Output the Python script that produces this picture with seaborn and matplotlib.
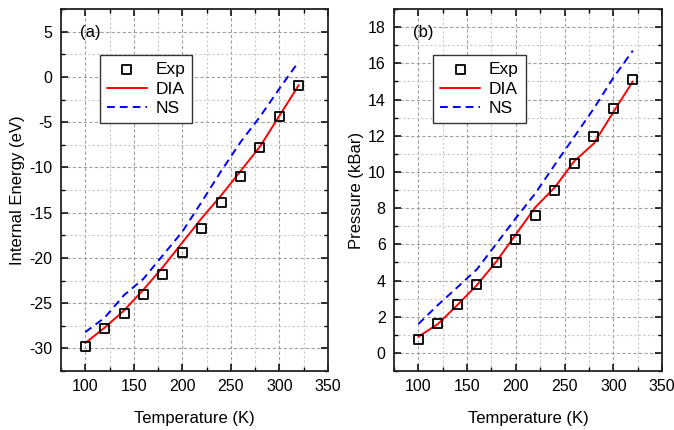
import numpy as np
import pandas as pd
import matplotlib
matplotlib.use("Agg")
import matplotlib.pyplot as plt
from matplotlib.ticker import MultipleLocator
import seaborn as sns

# data
temp = [100, 120, 140, 160, 180, 200, 220, 240, 260, 280, 300, 320]

energy_exp = [-29.8, -27.8, -26.1, -24.0, -21.8, -19.4, -16.8, -13.9, -10.95, -7.75, -4.4, -1.0]
energy_dia = [-29.4, -27.7, -25.8, -23.5, -21.0, -18.3, -15.6, -13.1, -10.4, -7.7, -4.3, -0.9]
energy_ns = [-28.2, -26.6, -24.1, -22.3, -19.7, -17.1, -13.8, -10.4, -7.2, -4.4, -1.3, 1.7]

press_exp = [0.72, 1.63, 2.68, 3.80, 4.99, 6.25, 7.57, 9.0, 10.44, 11.94, 13.5, 15.1]
press_dia = [0.9, 1.6, 2.65, 3.75, 5.05, 6.55, 8.05, 9.15, 10.6, 11.57, 13.3, 15.0]
press_ns = [1.6, 2.65, 3.63, 4.62, 6.03, 7.45, 8.82, 10.4, 11.95, 13.5, 15.2, 16.7]

sns.set_style("ticks")
plt.rcParams["font.family"] = ["Liberation Sans", "DejaVu Sans"]
plt.rcParams["axes.unicode_minus"] = False
plt.rcParams["text.color"] = "black"
plt.rcParams["axes.labelcolor"] = "black"
plt.rcParams["xtick.color"] = "black"
plt.rcParams["ytick.color"] = "black"

fig = plt.figure(figsize=(6.74, 4.30), dpi=100)
ax1 = fig.add_axes([0.0905, 0.137, 0.396, 0.842])
ax2 = fig.add_axes([0.5846, 0.137, 0.3976, 0.842])


def panel(ax, exp, dia, ns, ylabel, tag, ylim, major, minor):
    df = pd.DataFrame({"T": temp, "Exp": exp, "DIA": dia, "NS": ns})
    ax.set_axisbelow(True)
    ax.grid(which="major", color="#a0a0a0", linestyle=(0, (3, 2)), linewidth=0.8)
    ax.grid(which="minor", color="#c8c8c8", linestyle=(0, (2, 2)), linewidth=0.8)
    sns.lineplot(data=df, x="T", y="NS", ax=ax, color="#0000ff", linewidth=1.4,
                 linestyle=(0, (4, 2.6)), label="NS")
    sns.lineplot(data=df, x="T", y="DIA", ax=ax, color="#ff0000", linewidth=1.4,
                 label="DIA")
    sns.scatterplot(data=df, x="T", y="Exp", ax=ax, marker="s", s=42,
                    facecolor="none", edgecolor="black", linewidth=1.3,
                    label="Exp", zorder=5)
    ax.set_xlim(75, 350)
    ax.set_ylim(*ylim)
    ax.xaxis.set_major_locator(MultipleLocator(50))
    ax.xaxis.set_minor_locator(MultipleLocator(25))
    ax.yaxis.set_major_locator(MultipleLocator(major))
    ax.yaxis.set_minor_locator(MultipleLocator(minor))
    ax.tick_params(which="both", direction="in", top=True, right=True,
                   labelsize=11.5)
    ax.tick_params(which="major", length=5, width=1.1, pad=6)
    ax.tick_params(which="minor", length=3, width=1.0)
    for s in ax.spines.values():
        s.set_linewidth(1.3)
        s.set_color("#222222")
    ax.set_xlabel("Temperature (K)", fontsize=12, labelpad=12)
    ax.set_ylabel(ylabel, fontsize=12, labelpad=3)
    ax.text(0.07, 0.936, tag, transform=ax.transAxes, fontsize=12,
            ha="left", va="center")
    h, l = ax.get_legend_handles_labels()
    order = [l.index("Exp"), l.index("DIA"), l.index("NS")]
    leg = ax.legend([h[i] for i in order], [l[i] for i in order],
                    loc="upper left", bbox_to_anchor=(0.146, 0.873),
                    fontsize=12.5, frameon=True, fancybox=False,
                    edgecolor="#333333", framealpha=1, handlelength=2.3,
                    borderpad=0.4, labelspacing=0.25, handletextpad=0.5,
                    borderaxespad=0)
    leg.get_frame().set_linewidth(1.0)


panel(ax1, energy_exp, energy_dia, energy_ns, "Internal Energy (eV)", "(a)",
      (-32.5, 7.5), 5, 2.5)
panel(ax2, press_exp, press_dia, press_ns, "Pressure (kBar)", "(b)",
      (-1, 19), 2, 1)

fig.savefig("out.png", dpi=100)
